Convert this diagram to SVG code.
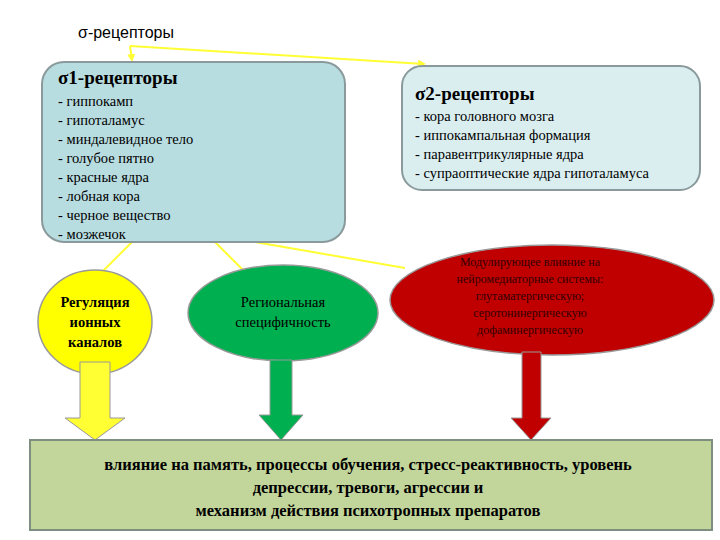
<svg xmlns="http://www.w3.org/2000/svg" width="720" height="540" viewBox="0 0 720 540">
<style>
.c{stroke:#ffff33;stroke-width:2;fill:none}
</style>
<defs><marker id="a" markerWidth="8" markerHeight="8" refX="6" refY="4" orient="auto" markerUnits="userSpaceOnUse"><path d="M0,0L8,4L0,8z" fill="#ffff33"/></marker></defs>
<rect width="720" height="540" fill="#fff"/>
<g id="connectors">
<path class="c" d="M130,46L132,60" marker-end="url(#a)"/>
<path class="c" d="M130,46L424,64" marker-end="url(#a)"/>
<path class="c" d="M132,242L102,272"/>
<path class="c" d="M215,242L245,272"/>
<path class="c" d="M255,242L405,268"/>
</g>
<g id="root"><text x="78" y="38" font-family="Liberation Sans, Arial, sans-serif" font-size="16">σ-рецепторы</text></g>
<g font-family="Liberation Serif, DejaVu Serif, serif">
<g id="s1" font-size="14.5">
<rect x="42" y="62" width="303" height="180" rx="22" fill="#b8dde0" stroke="#8a9a9c" stroke-width="2"/>
<text font-size="19" font-weight="bold" x="58" y="84">σ1-рецепторы</text>
<text x="58" y="106">- гиппокамп</text>
<text x="58" y="125">- гипоталамус</text>
<text x="58" y="144">- миндалевидное тело</text>
<text x="58" y="163">- голубое пятно</text>
<text x="58" y="182">- красные ядра</text>
<text x="58" y="201">- лобная кора</text>
<text x="58" y="220">- черное вещество</text>
<text x="58" y="239">- мозжечок</text>
</g>
<g id="s2" font-size="14.5">
<rect x="402" y="66" width="298" height="124" rx="20" fill="#daeef0" stroke="#8a9a9c" stroke-width="2"/>
<text font-size="19" font-weight="bold" x="415" y="100">σ2-рецепторы</text>
<text x="415" y="121">- кора головного мозга</text>
<text x="415" y="140">- иппокампальная формация</text>
<text x="415" y="159">- паравентрикулярные ядра</text>
<text x="415" y="178">- супраоптические ядра гипоталамуса</text>
</g>
<g id="ion" font-size="14.5" font-weight="bold" text-anchor="middle">
<ellipse cx="95" cy="322" rx="57" ry="52" fill="#ffff00" stroke="#999" stroke-width="1.5"/>
<text x="95" y="307">Регуляция</text>
<text x="95" y="327">ионных</text>
<text x="95" y="347">каналов</text>
</g>
<g id="reg" font-size="14.5" text-anchor="middle">
<ellipse cx="283" cy="313" rx="95" ry="48" fill="#00b050" stroke="#999" stroke-width="1.5"/>
<text x="283" y="307">Региональная</text>
<text x="283" y="327">специфичность</text>
</g>
<g id="mod" font-size="12" text-anchor="middle">
<ellipse cx="552" cy="300" rx="162" ry="55" fill="#c00000" stroke="#999" stroke-width="1.5"/>
<g fill="#300">
<text x="530" y="266">Модулирующее влияние на</text>
<text x="530" y="283">нейромедиаторные системы:</text>
<text x="530" y="300">глутаматергическую;</text>
<text x="530" y="317">серотонинергическую</text>
<text x="530" y="334">дофаминергическую</text>
</g>
</g>
<g id="arrows">
<path d="M80,362H110V418H125L95,440L65,418H80Z" fill="#ffff33" stroke="#999"/>
<path d="M270,360H292V415H303L281,440L259,415H270Z" fill="#00b050" stroke="#999"/>
<path d="M522,352H541V418H551L531,440L511,418H522Z" fill="#c00000" stroke="#999"/>
</g>
<g id="bottom">
<rect x="30" y="440" width="682" height="90" fill="#c2d69b" stroke="#7f8f7f" stroke-width="2"/>
<g font-size="16.5" font-weight="bold" text-anchor="middle">
<text x="368" y="470">влияние на память, процессы обучения, стресс-реактивность, уровень</text>
<text x="368" y="493">депрессии, тревоги, агрессии и</text>
<text x="368" y="516">механизм действия психотропных препаратов</text>
</g>
</g>
</g>
</svg>
